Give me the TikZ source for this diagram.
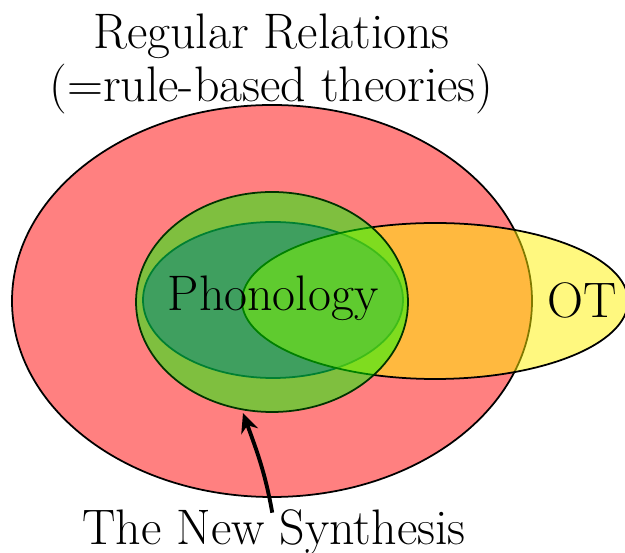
\documentclass[tikz,border=0pt]{standalone}
\usepackage{tikz}
\usetikzlibrary{arrows.meta, positioning}
\begin{document}
\begin{tikzpicture}[
  venn/.style={draw, line width=1pt},
  big/.style={font=\fontsize{28.4}{30}\selectfont}
]
\useasboundingbox (0,0) rectangle (12.5,11.06);
% Regular relations
\draw[venn, fill=red!50] (5.44,5.04) ellipse (5.2 and 3.92);
% Phonology
\draw[venn, draw=blue!40!black, fill=blue, fill opacity=0.5] (5.46,5.06) ellipse (2.6 and 1.56);
% OT
\draw[venn, fill=yellow, fill opacity=0.5] (8.7,5.04) ellipse (3.86 and 1.56);
% New synthesis
\draw[venn, draw=green!20!black, fill=green, fill opacity=0.5] (5.44,5.02) ellipse (2.72 and 2.2);
% Labels
\node[big] (phon) at (5.46,5.1) {Phonology};
\node[big] (ot) at (11.65,5.06) {OT};
\node[big, align=center] (rr) at (5.43,9.78) {Regular Relations\\(=rule-based theories)};
\node[big, anchor=base] (synth) at (5.48,0.16) {The New Synthesis};
% Arrow
\coordinate (tip) at (4.86,2.8);
\draw[-{Stealth[length=11pt,width=10pt]}, line width=2.2pt] ([xshift=-1pt,yshift=-5pt]synth.north) to[out=100,in=-70] (tip);
\end{tikzpicture}
\end{document}
